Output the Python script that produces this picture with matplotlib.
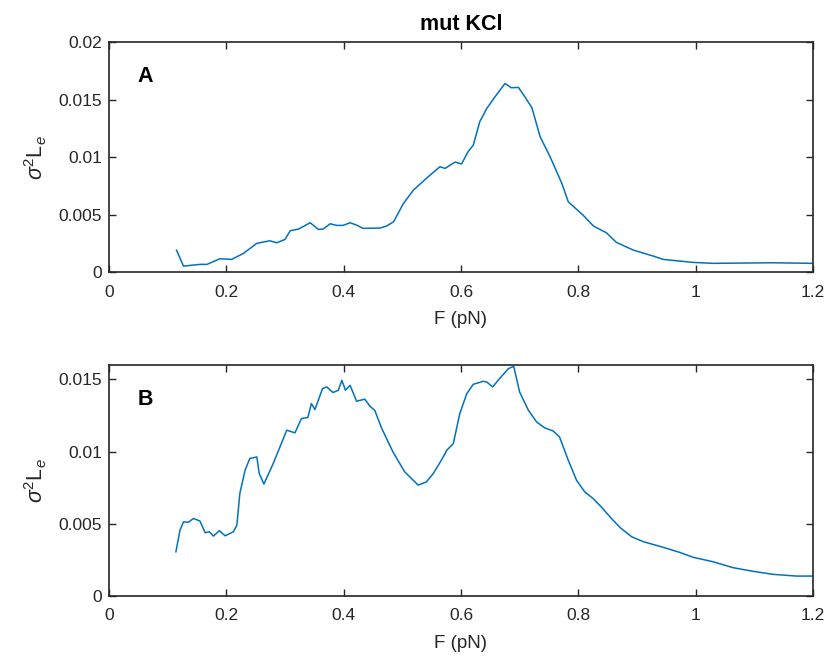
import matplotlib
matplotlib.use("Agg")
import matplotlib.pyplot as plt

plt.rcParams['font.family'] = ['Liberation Sans', 'DejaVu Sans']
plt.rcParams['mathtext.fontset'] = 'custom'
plt.rcParams['mathtext.rm'] = 'Liberation Sans'
plt.rcParams['mathtext.it'] = 'Liberation Sans:italic'

# panel A
fa = [0.115, 0.127, 0.155, 0.167, 0.189, 0.209, 0.229, 0.252, 0.274, 0.286,
      0.300, 0.309, 0.323, 0.343, 0.357, 0.365, 0.377, 0.388, 0.399, 0.411,
      0.422, 0.433, 0.462, 0.473, 0.485, 0.502, 0.519, 0.541, 0.564, 0.573,
      0.590, 0.601, 0.612, 0.621, 0.632, 0.644, 0.658, 0.675, 0.686, 0.698,
      0.709, 0.721, 0.735, 0.752, 0.772, 0.783, 0.808, 0.826, 0.848, 0.865,
      0.894, 0.928, 0.945, 0.996, 1.030, 1.132, 1.200]
va = [0.00191, 0.00052, 0.00067, 0.00067, 0.00116, 0.00110, 0.00162, 0.00250, 0.00272, 0.00255,
      0.00284, 0.00360, 0.00374, 0.00429, 0.00371, 0.00374, 0.00420, 0.00406, 0.00406, 0.00429,
      0.00409, 0.00380, 0.00383, 0.00400, 0.00437, 0.00597, 0.00713, 0.00815, 0.00916, 0.00902,
      0.00957, 0.00940, 0.01046, 0.01104, 0.01307, 0.01423, 0.01524, 0.01640, 0.01603, 0.01606,
      0.01524, 0.01429, 0.01177, 0.01003, 0.00771, 0.00611, 0.00496, 0.00400, 0.00342, 0.00258,
      0.00191, 0.00139, 0.00110, 0.00084, 0.00076, 0.00081, 0.00076]

# panel B
fb = [0.114, 0.121, 0.127, 0.135, 0.144, 0.155, 0.164, 0.171, 0.178, 0.188,
      0.198, 0.212, 0.218, 0.223, 0.232, 0.240, 0.252, 0.256, 0.264, 0.280,
      0.303, 0.317, 0.328, 0.339, 0.345, 0.351, 0.364, 0.371, 0.382, 0.391,
      0.397, 0.403, 0.411, 0.422, 0.436, 0.445, 0.453, 0.465, 0.484, 0.504,
      0.527, 0.541, 0.553, 0.568, 0.576, 0.587, 0.598, 0.610, 0.621, 0.638,
      0.644, 0.654, 0.666, 0.681, 0.690, 0.700, 0.715, 0.729, 0.743, 0.757,
      0.768, 0.783, 0.797, 0.811, 0.825, 0.839, 0.859, 0.873, 0.891, 0.911,
      0.945, 0.973, 0.996, 1.030, 1.064, 1.098, 1.132, 1.172, 1.200]
vb = [0.00306, 0.00456, 0.00514, 0.00510, 0.00537, 0.00519, 0.00438, 0.00445, 0.00415, 0.00452,
      0.00417, 0.00445, 0.00491, 0.00710, 0.00871, 0.00952, 0.00963, 0.00849, 0.00775, 0.00918,
      0.01148, 0.01130, 0.01229, 0.01236, 0.01333, 0.01291, 0.01436, 0.01448, 0.01409, 0.01425,
      0.01494, 0.01425, 0.01459, 0.01349, 0.01363, 0.01314, 0.01286, 0.01160, 0.00998, 0.00860,
      0.00768, 0.00790, 0.00849, 0.00950, 0.01010, 0.01056, 0.01263, 0.01402, 0.01466, 0.01487,
      0.01482, 0.01448, 0.01506, 0.01575, 0.01590, 0.01413, 0.01286, 0.01205, 0.01164, 0.01143,
      0.01102, 0.00940, 0.00802, 0.00721, 0.00676, 0.00618, 0.00526, 0.00468, 0.00410, 0.00376,
      0.00337, 0.00302, 0.00268, 0.00237, 0.00196, 0.00171, 0.00150, 0.00138, 0.00138]

xticks = [0, 0.2, 0.4, 0.6, 0.8, 1, 1.2]
xlabels = ['0', '0.2', '0.4', '0.6', '0.8', '1', '1.2']
yticks_a = [0, 0.005, 0.01, 0.015, 0.02]
ylabels_a = ['0', '0.005', '0.01', '0.015', '0.02']
yticks_b = [0, 0.005, 0.01, 0.015]
ylabels_b = ['0', '0.005', '0.01', '0.015']

blue = '#0072BD'
dark = '#262626'

fig = plt.figure(figsize=(8.31, 6.62), dpi=100)
ax1 = fig.add_axes([0.1312, 0.589, 0.847, 0.3474])
ax2 = fig.add_axes([0.1312, 0.0997, 0.847, 0.349])

panels = [(ax1, fa, va, 0.02, yticks_a, ylabels_a, 'A'),
          (ax2, fb, vb, 0.016, yticks_b, ylabels_b, 'B')]
for ax, f, v, ytop, yt, yl, letter in panels:
    ax.plot(f, v, color=blue, lw=1.1)
    ax.set_xlim(0, 1.2)
    ax.set_ylim(0, ytop)
    ax.set_xticks(xticks)
    ax.set_xticklabels(xlabels)
    ax.set_yticks(yt)
    ax.set_yticklabels(yl)
    ax.tick_params(direction='in', top=True, right=True, length=5,
                   width=1, colors=dark, labelsize=12.5)
    ax.tick_params(axis='x', pad=9)
    ax.tick_params(axis='y', pad=5)
    for s in ax.spines.values():
        s.set_color(dark)
        s.set_linewidth(1.2)
    ax.set_xlabel('F (pN)', fontsize=13.5, color=dark, labelpad=8)
    ax.set_ylabel(r'$\sigma^2$L$_e$', fontsize=15.5, color=dark, labelpad=7)
    ax.text(0.04, 0.85, letter, transform=ax.transAxes, fontsize=15.5,
            fontweight='bold', va='center', ha='left')

ax1.set_title('mut KCl', fontsize=15.5, fontweight='bold', pad=9)

fig.savefig('out.png', dpi=100)
